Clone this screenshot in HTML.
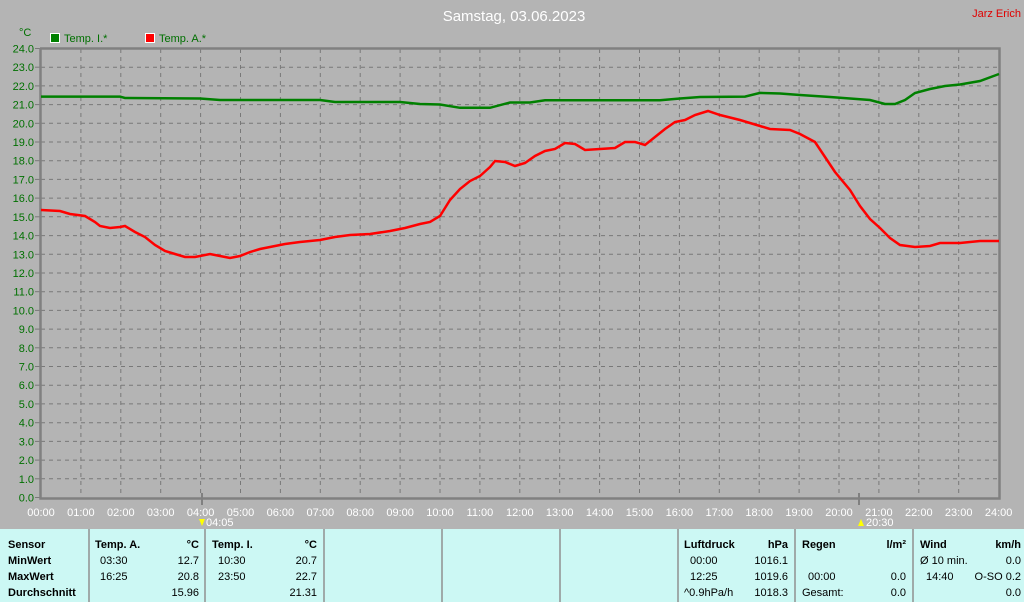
<!DOCTYPE html>
<html><head><meta charset="utf-8"><style>
body{margin:0;background:#b4b4b4;width:1024px;height:602px;overflow:hidden}
svg{display:block;font-family:"Liberation Sans",sans-serif}
</style></head><body>
<svg width="1024" height="602" viewBox="0 0 1024 602">
<rect width="1024" height="602" fill="#b4b4b4"/>
<text x="514" y="21" fill="#ffffff" font-size="15" text-anchor="middle">Samstag, 03.06.2023</text>
<text x="1021" y="17" fill="#e00000" font-size="11" text-anchor="end">Jarz Erich</text>
<text x="19" y="36" fill="#007000" font-size="11">°C</text>
<rect x="50.5" y="33.5" width="9" height="9" fill="#008000" stroke="#fff"/>
<text x="64" y="42" fill="#007000" font-size="11">Temp. I.*</text>
<rect x="145.5" y="33.5" width="9" height="9" fill="#ff0000" stroke="#fff"/>
<text x="159" y="42" fill="#007000" font-size="11">Temp. A.*</text>
<g id="grid" stroke="#787878" stroke-dasharray="4,4" stroke-width="1"></g>
<g id="ylab" fill="#007000" font-size="11" text-anchor="end"></g>
<g id="xlab" fill="#ffffff" font-size="11" text-anchor="middle"></g>
<path d="M40.5,48V498.5H999.5V48.5H40" fill="none" stroke="#808080" stroke-width="2.5"/>
<line x1="202" y1="493" x2="202" y2="505" stroke="#808080" stroke-width="2"/>
<line x1="859" y1="493" x2="859" y2="505" stroke="#808080" stroke-width="2"/>
<text x="206" y="526" fill="#fff" font-size="11">04:05</text>
<text x="866" y="526" fill="#fff" font-size="11">20:30</text>
<polygon points="199,519 205,519 202,526" fill="#ffff00"/>
<polygon points="858,526 864,526 861,519" fill="#ffff00"/>
<polyline fill="none" stroke="#008000" stroke-width="2.5" points="41,96.6 120,96.6 125,98 200,98.5 220,100 320,100 335,102 400,102 420,104 440,104.5 460,107.8 490,107.8 510,102.5 530,102.5 545,100.3 660,100.3 680,98.5 700,97 745,96.6 760,92.9 780,93.5 800,95 830,97 850,98.5 870,100 885,104 895,104 905,100 915,93 930,89 945,86 960,84.5 980,81 999,74"/>
<polyline fill="none" stroke="#ff0000" stroke-width="2.5" points="41,210 60,211 70,214 85,216 95,222 100,226 110,228 120,227 125,226 135,232 145,237 155,245 165,251 175,254 185,257 195,257 210,254 220,256 230,258 240,256 250,252 260,249 270,247 285,244 300,242 320,240 335,237 350,235 370,234 390,231 405,228 420,224 430,222 440,216 450,200 460,189 470,181 480,176 490,167 495,161 505,162 515,166 525,163 535,156 545,151 555,149 565,143 575,144 585,150 600,149 615,148 625,142 635,142 645,145 655,137 665,129 675,122 685,120 695,115 708,111 720,115 740,120 760,126 770,129 790,130 800,134 815,142 825,157 835,172 850,190 860,206 870,219 880,228 890,238 900,245 915,247 930,246 940,243 960,243 980,241 999,241"/>
<rect x="0" y="529" width="1024" height="73" fill="#ccf8f4"/>
<g stroke="#909090" stroke-width="1.5">
<line x1="89" y1="529" x2="89" y2="602"/><line x1="205" y1="529" x2="205" y2="602"/><line x1="324" y1="529" x2="324" y2="602"/><line x1="442" y1="529" x2="442" y2="602"/><line x1="560" y1="529" x2="560" y2="602"/><line x1="678" y1="529" x2="678" y2="602"/><line x1="795" y1="529" x2="795" y2="602"/><line x1="913" y1="529" x2="913" y2="602"/>
</g>
<g font-size="11" fill="#000">
<g font-weight="bold"><text x="8" y="548">Sensor</text><text x="8" y="564">MinWert</text><text x="8" y="580">MaxWert</text><text x="8" y="596">Durchschnitt</text>
<text x="95" y="548">Temp. A.</text><text x="199" y="548" text-anchor="end">°C</text>
<text x="212" y="548">Temp. I.</text><text x="317" y="548" text-anchor="end">°C</text>
<text x="684" y="548">Luftdruck</text><text x="788" y="548" text-anchor="end">hPa</text>
<text x="802" y="548">Regen</text><text x="906" y="548" text-anchor="end">l/m²</text>
<text x="920" y="548">Wind</text><text x="1021" y="548" text-anchor="end">km/h</text></g>
<text x="100" y="564">03:30</text><text x="199" y="564" text-anchor="end">12.7</text>
<text x="100" y="580">16:25</text><text x="199" y="580" text-anchor="end">20.8</text>
<text x="199" y="596" text-anchor="end">15.96</text>
<text x="218" y="564">10:30</text><text x="317" y="564" text-anchor="end">20.7</text>
<text x="218" y="580">23:50</text><text x="317" y="580" text-anchor="end">22.7</text>
<text x="317" y="596" text-anchor="end">21.31</text>
<text x="690" y="564">00:00</text><text x="788" y="564" text-anchor="end">1016.1</text>
<text x="690" y="580">12:25</text><text x="788" y="580" text-anchor="end">1019.6</text>
<text x="684" y="596">^0.9hPa/h</text><text x="788" y="596" text-anchor="end">1018.3</text>
<text x="808" y="580">00:00</text><text x="906" y="580" text-anchor="end">0.0</text>
<text x="802" y="596">Gesamt:</text><text x="906" y="596" text-anchor="end">0.0</text>
<text x="920" y="564">Ø 10 min.</text><text x="1021" y="564" text-anchor="end">0.0</text>
<text x="926" y="580">14:40</text><text x="1021" y="580" text-anchor="end">O-SO 0.2</text>
<text x="1021" y="596" text-anchor="end">0.0</text>
</g>
</svg>
<script>
var ns="http://www.w3.org/2000/svg";
var g=document.getElementById("grid"),yl=document.getElementById("ylab"),xl=document.getElementById("xlab");
function el(p,t,a,txt){var e=document.createElementNS(ns,t);for(var k in a)e.setAttribute(k,a[k]);if(txt)e.textContent=txt;p.appendChild(e);}
for(var i=0;i<=24;i++){var y=497.5-18.71*i;
 if(i>0&&i<24)el(g,"line",{x1:41,x2:999,y1:y.toFixed(1),y2:y.toFixed(1)});
 el(yl,"text",{x:34,y:(y+4).toFixed(1)},i.toFixed(1));
 el(g,"line",{x1:35,x2:40,y1:y.toFixed(1),y2:y.toFixed(1),"stroke-dasharray":"none"});
 var x=41+39.9*i;
 if(i>0&&i<24)el(g,"line",{x1:x.toFixed(1),x2:x.toFixed(1),y1:49,y2:497});
 el(xl,"text",{x:x.toFixed(1),y:516},(i<10?"0":"")+i+":00");
}
</script>
</body></html>
